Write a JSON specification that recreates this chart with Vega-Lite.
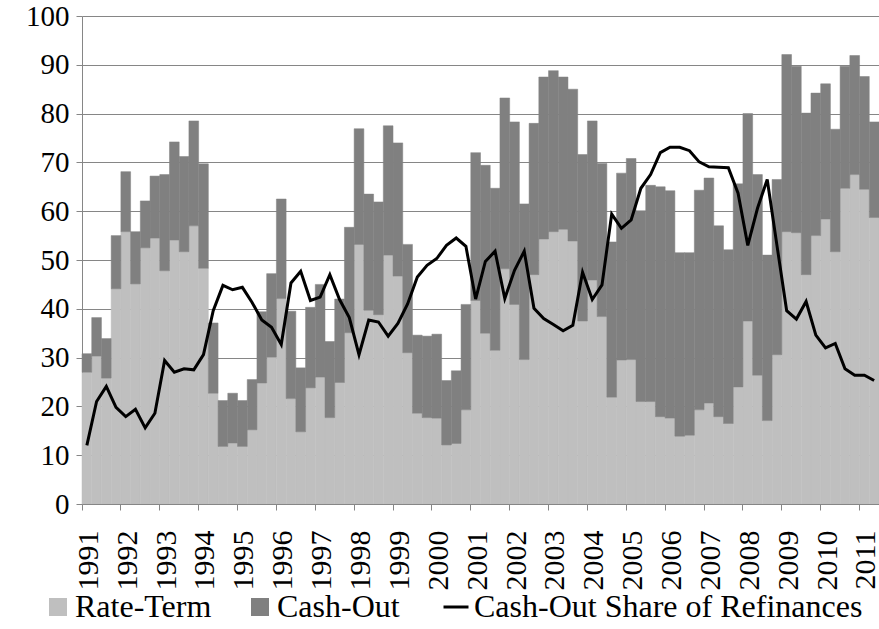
{
  "$schema": "https://vega.github.io/schema/vega-lite/v6.json",
  "width": 797,
  "height": 488,
  "autosize": {"type": "none"},
  "padding": {"left": 82, "top": 16, "right": 0, "bottom": 125},
  "background": "white",
  "config": {
    "font": "'Liberation Serif', serif",
    "view": {"stroke": null},
    "axisY": {"grid": true, "gridColor": "#868686", "gridWidth": 1, "domainColor": "#868686", "tickColor": "#868686", "tickSize": 6, "labelFontSize": 29, "labelColor": "black", "labelPadding": 7, "labelFont": "'Liberation Serif', serif", "title": null},
    "axisX": {"grid": false, "domainColor": "#868686", "tickColor": "#868686", "tickSize": 6, "labelFontSize": 30, "labelColor": "black", "labelFont": "'Liberation Serif', serif", "title": null},
    "legend": {"labelFont": "'Liberation Serif', serif", "labelFontSize": 32, "labelColor": "black", "labelLimit": 0}
  },
  "data": {"values": [
    {"q":"1991Q1","rt":27.0,"total":30.8,"share":12.0},
    {"q":"1991Q2","rt":30.3,"total":38.2,"share":21.0},
    {"q":"1991Q3","rt":25.8,"total":33.9,"share":24.1},
    {"q":"1991Q4","rt":44.1,"total":55.0,"share":19.8},
    {"q":"1992Q1","rt":55.8,"total":68.1,"share":17.9},
    {"q":"1992Q2","rt":45.1,"total":55.8,"share":19.4},
    {"q":"1992Q3","rt":52.5,"total":62.1,"share":15.6},
    {"q":"1992Q4","rt":54.5,"total":67.2,"share":18.6},
    {"q":"1993Q1","rt":47.8,"total":67.5,"share":29.4},
    {"q":"1993Q2","rt":54.1,"total":74.2,"share":27.0},
    {"q":"1993Q3","rt":51.7,"total":71.2,"share":27.7},
    {"q":"1993Q4","rt":57.0,"total":78.5,"share":27.5},
    {"q":"1994Q1","rt":48.3,"total":69.7,"share":30.6},
    {"q":"1994Q2","rt":22.7,"total":37.1,"share":39.6},
    {"q":"1994Q3","rt":11.8,"total":21.2,"share":44.8},
    {"q":"1994Q4","rt":12.5,"total":22.7,"share":43.9},
    {"q":"1995Q1","rt":11.8,"total":21.2,"share":44.4},
    {"q":"1995Q2","rt":15.2,"total":25.5,"share":41.3},
    {"q":"1995Q3","rt":24.8,"total":39.4,"share":37.7},
    {"q":"1995Q4","rt":30.1,"total":47.2,"share":36.2},
    {"q":"1996Q1","rt":42.1,"total":62.5,"share":32.7},
    {"q":"1996Q2","rt":21.6,"total":39.5,"share":45.3},
    {"q":"1996Q3","rt":14.8,"total":27.9,"share":47.7},
    {"q":"1996Q4","rt":23.8,"total":40.3,"share":41.7},
    {"q":"1997Q1","rt":26.0,"total":45.0,"share":42.4},
    {"q":"1997Q2","rt":17.7,"total":33.3,"share":47.0},
    {"q":"1997Q3","rt":24.9,"total":42.0,"share":41.9},
    {"q":"1997Q4","rt":35.1,"total":56.7,"share":38.2},
    {"q":"1998Q1","rt":53.2,"total":76.9,"share":30.6},
    {"q":"1998Q2","rt":39.7,"total":63.5,"share":37.7},
    {"q":"1998Q3","rt":38.8,"total":61.9,"share":37.3},
    {"q":"1998Q4","rt":51.0,"total":77.5,"share":34.4},
    {"q":"1999Q1","rt":46.7,"total":74.0,"share":37.0},
    {"q":"1999Q2","rt":31.0,"total":53.2,"share":41.0},
    {"q":"1999Q3","rt":18.6,"total":34.6,"share":46.5},
    {"q":"1999Q4","rt":17.7,"total":34.4,"share":48.9},
    {"q":"2000Q1","rt":17.6,"total":34.8,"share":50.3},
    {"q":"2000Q2","rt":12.1,"total":25.3,"share":53.0},
    {"q":"2000Q3","rt":12.4,"total":27.3,"share":54.5},
    {"q":"2000Q4","rt":19.3,"total":40.9,"share":52.8},
    {"q":"2001Q1","rt":41.7,"total":72.0,"share":42.0},
    {"q":"2001Q2","rt":35.0,"total":69.4,"share":49.7},
    {"q":"2001Q3","rt":31.5,"total":64.7,"share":51.8},
    {"q":"2001Q4","rt":48.2,"total":83.2,"share":42.1},
    {"q":"2002Q1","rt":40.9,"total":78.3,"share":47.9},
    {"q":"2002Q2","rt":29.6,"total":61.5,"share":51.8},
    {"q":"2002Q3","rt":47.0,"total":78.0,"share":40.1},
    {"q":"2002Q4","rt":54.3,"total":87.5,"share":38.0},
    {"q":"2003Q1","rt":55.8,"total":88.8,"share":36.8},
    {"q":"2003Q2","rt":56.3,"total":87.5,"share":35.5},
    {"q":"2003Q3","rt":53.9,"total":85.0,"share":36.6},
    {"q":"2003Q4","rt":37.5,"total":71.6,"share":47.5},
    {"q":"2004Q1","rt":45.9,"total":78.5,"share":41.9},
    {"q":"2004Q2","rt":38.4,"total":69.8,"share":44.9},
    {"q":"2004Q3","rt":21.9,"total":53.7,"share":59.4},
    {"q":"2004Q4","rt":29.5,"total":67.8,"share":56.5},
    {"q":"2005Q1","rt":29.6,"total":70.8,"share":58.2},
    {"q":"2005Q2","rt":21.0,"total":60.1,"share":64.7},
    {"q":"2005Q3","rt":21.0,"total":65.3,"share":67.5},
    {"q":"2005Q4","rt":17.9,"total":65.0,"share":72.0},
    {"q":"2006Q1","rt":17.6,"total":64.2,"share":73.1},
    {"q":"2006Q2","rt":13.9,"total":51.5,"share":73.1},
    {"q":"2006Q3","rt":14.1,"total":51.5,"share":72.4},
    {"q":"2006Q4","rt":19.3,"total":64.3,"share":70.1},
    {"q":"2007Q1","rt":20.7,"total":66.8,"share":69.1},
    {"q":"2007Q2","rt":17.9,"total":57.0,"share":69.0},
    {"q":"2007Q3","rt":16.5,"total":52.1,"share":68.9},
    {"q":"2007Q4","rt":24.0,"total":65.6,"share":63.7},
    {"q":"2008Q1","rt":37.5,"total":80.0,"share":53.0},
    {"q":"2008Q2","rt":26.4,"total":67.5,"share":60.6},
    {"q":"2008Q3","rt":17.1,"total":51.0,"share":66.5},
    {"q":"2008Q4","rt":30.6,"total":66.5,"share":53.0},
    {"q":"2009Q1","rt":55.8,"total":92.1,"share":39.6},
    {"q":"2009Q2","rt":55.6,"total":89.7,"share":37.9},
    {"q":"2009Q3","rt":47.0,"total":80.1,"share":41.5},
    {"q":"2009Q4","rt":55.0,"total":84.2,"share":34.6},
    {"q":"2010Q1","rt":58.4,"total":86.1,"share":32.0},
    {"q":"2010Q2","rt":51.7,"total":76.8,"share":32.9},
    {"q":"2010Q3","rt":64.7,"total":89.7,"share":27.7},
    {"q":"2010Q4","rt":67.5,"total":91.9,"share":26.4},
    {"q":"2011Q1","rt":64.5,"total":87.6,"share":26.4},
    {"q":"2011Q2","rt":58.7,"total":78.3,"share":25.3}
  ]},
  "encoding": {
    "x": {
      "field": "q", "type": "ordinal", "sort": null,
      "scale": {"paddingInner": 0, "paddingOuter": 0},
      "axis": {
        "title": null,
        "values": ["1991Q1","1992Q1","1993Q1","1994Q1","1995Q1","1996Q1","1997Q1","1998Q1","1999Q1","2000Q1","2001Q1","2002Q1","2003Q1","2004Q1","2005Q1","2006Q1","2007Q1","2008Q1","2009Q1","2010Q1","2011Q1"],
        "labelExpr": "substring(datum.value, 0, 4)",
        "bandPosition": 0,
        "labelOffset": 2,
        "labelAngle": 270,
        "labelPadding": 20,
        "labelOverlap": false,
        "zindex": 1
      }
    }
  },
  "layer": [
    {
      "mark": {"type": "bar", "stroke": "#BFBFBF", "strokeWidth": 0.5},
      "encoding": {
        "y": {"field": "rt", "type": "quantitative", "scale": {"domain": [0, 100], "nice": false}, "axis": {"title": null, "values": [0,10,20,30,40,50,60,70,80,90,100]}},
        "color": {
          "datum": "Rate-Term", "type": "nominal",
          "scale": {"domain": ["Rate-Term", "Cash-Out"], "range": ["#BFBFBF", "#808080"]},
          "legend": {
            "orient": "none", "legendX": -40, "legendY": 575, "direction": "horizontal", "title": null,
            "symbolSize": 324, "symbolStrokeWidth": 0, "labelOffset": 1, "columnPadding": 32, "symbolType": "square", "symbolOpacity": 1
          }
        }
      }
    },
    {
      "mark": {"type": "bar", "stroke": "#808080", "strokeWidth": 0.5},
      "encoding": {
        "y": {"field": "total", "type": "quantitative", "axis": {"title": null, "values": [0,10,20,30,40,50,60,70,80,90,100]}},
        "y2": {"field": "rt"},
        "color": {"datum": "Cash-Out", "type": "nominal"}
      }
    },
    {
      "mark": {"type": "line", "strokeWidth": 3},
      "encoding": {
        "y": {"field": "share", "type": "quantitative", "axis": {"title": null, "values": [0,10,20,30,40,50,60,70,80,90,100]}},
        "stroke": {
          "datum": "Cash-Out Share of Refinances", "type": "nominal",
          "scale": {"domain": ["Cash-Out Share of Refinances"], "range": ["#000000"]},
          "legend": {
            "orient": "none", "legendX": 358, "legendY": 575, "direction": "horizontal", "title": null,
            "symbolType": "stroke", "symbolSize": 625, "symbolStrokeWidth": 3, "symbolStrokeColor": "#000000", "labelOffset": 2
          }
        }
      }
    }
  ]
}
